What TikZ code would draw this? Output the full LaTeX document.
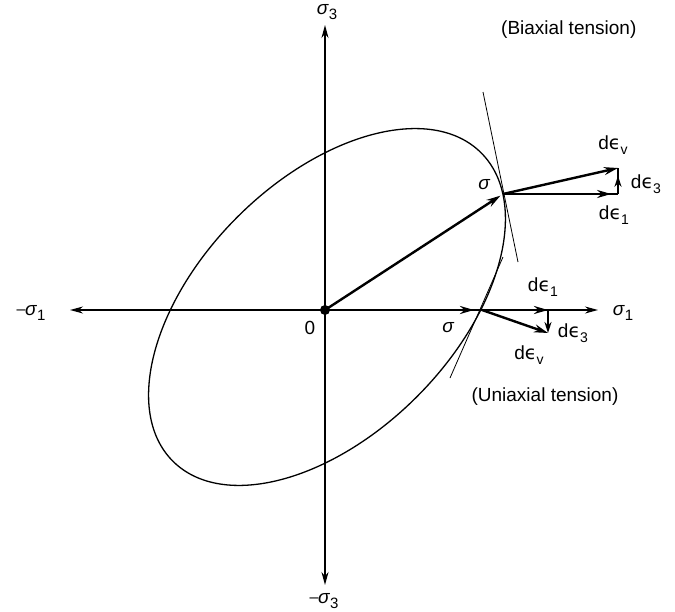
\documentclass[tikz,border=0pt]{standalone}
\usepackage{fontspec}
\setmainfont{Liberation Sans}
\newfontfamily\dvfont{DejaVu Sans}
\usetikzlibrary{arrows.meta,calc}
\newcommand{\mysig}[1]{{\itshape σ}\kern0.5pt\raisebox{-0.45ex}{\fontsize{15}{15}\selectfont #1}}
\newcommand{\myde}[1]{d{\dvfont ϵ}\raisebox{-0.45ex}{\fontsize{14}{14}\selectfont #1}}
\begin{document}
\begin{tikzpicture}[x=1pt,y=1pt,
  every node/.style={font=\fontsize{19}{22}\selectfont, inner sep=0pt},
  axisline/.style={line width=1.3pt,-{Stealth[length=13pt,width=7pt]}},
  vec/.style={line width=2.4pt,-{Stealth[length=14pt,width=8pt]}},
  svec/.style={line width=2.2pt,-{Stealth[length=11pt,width=7pt]}},
  thk/.style={line width=2.2pt},
  tang/.style={line width=0.8pt},
  curve/.style={line width=1.3pt}]
\useasboundingbox (-325,-301) rectangle (350,310);
% axes
\coordinate (O) at (0,0);
\coordinate (xL) at (-255,0);
\coordinate (xR) at (273,0);
\coordinate (yT) at (0,285);
\coordinate (yB) at (0,-275);
\draw[axisline] (O) -- (xR);
\draw[axisline] (O) -- (xL);
\draw[axisline] (O) -- (yT);
\draw[axisline] (O) -- (yB);
\node (s3) at (2,298) {\mysig{3}};
\node (ms3) at (0,-291) {\kern-2pt{\fontsize{16}{16}\selectfont\raisebox{0.2ex}{--}}\kern-0.5pt\mysig{3}};
\node (ms1) at (-294,-3) {{\fontsize{16}{16}\selectfont\raisebox{0.2ex}{--}}\kern-0.5pt\mysig{1}};
\node (s1) at (298,-3) {\mysig{1}};
\node (zero) at (-15,-18) {0};
% ellipse
\draw[curve, shift={(2,3)}, rotate=45] (0,0) ellipse [x radius=218, y radius=127];
% stress points
\coordinate (B) at (178,116);
\coordinate (U) at (157,0);
% tangents
\coordinate (bt1) at (158,218);
\coordinate (bt2) at (193,48);
\coordinate (ut1) at (125,-68);
\coordinate (ut2) at (178,53);
\draw[tang] (bt1) -- (bt2);
\draw[tang] (ut1) -- (ut2);
% stress vectors
\draw[vec, shorten >=3pt] (O) -- (B);
\draw[vec, shorten >=8pt] (O) -- (U);
\fill (O) circle (5);
% biaxial strain increments
\coordinate (B1) at (293,116);
\coordinate (Bv) at (293,142);
\draw[thk] (B) -- (B1);
\draw[vec] (B) -- ($(B)!0.94!(B1)$);
\draw[line width=1.6pt] (B1) -- (Bv);
\draw[svec] (B1) -- ($(B1)!0.7!(Bv)$);
\draw[vec] (B) -- (Bv);
\node (bsig) at (159,125) {{\itshape σ}};
\node (bdev) at (288,165) {\myde{v}};
\node (bde3) at (321,126) {\myde{3}};
\node (bde1) at (289,95) {\myde{1}};
\node[anchor=west] (btxt) at (176,280) {(Biaxial tension)};
% uniaxial strain increments
\coordinate (U1) at (223,0);
\coordinate (U3) at (223,-23);
\draw[vec] (U) -- (U1);
\draw[svec] (U1) -- (U3);
\draw[vec] (U) -- (U3);
\node (usig) at (123,-18) {{\itshape σ}};
\node (ude1) at (218,23) {\myde{1}};
\node (ude3) at (248,-23) {\myde{3}};
\node (udev) at (204,-45) {\myde{v}};
\node (utxt) at (220,-87) {(Uniaxial tension)};
\end{tikzpicture}
\end{document}
